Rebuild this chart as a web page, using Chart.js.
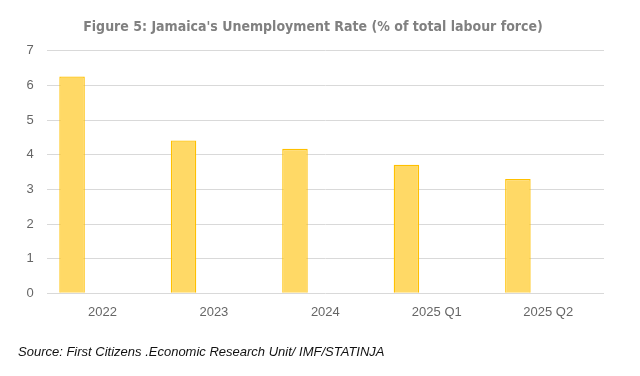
<!DOCTYPE html>
<html>
<head>
<meta charset="utf-8">
<script src="https://cdn.jsdelivr.net/npm/chart.js@4"></script>
<style>
    html, body { margin: 0; padding: 0; background: #fff; }
    .wrap { position: relative; width: 640px; height: 376px; }
    .source {
        position: absolute; left: 18px; top: 344px;
        font: italic 13px "Liberation Sans", Arial, sans-serif; color: #111;
    }
</style>
</head>
<body>
<div class="wrap">
    <canvas id="chart" width="640" height="376"></canvas>
    <div class="source">Source: First Citizens .Economic Research Unit/ IMF/STATINJA</div>
</div>
<script>
const categories = ['2022', '2023', '2024', '2025 Q1', '2025 Q2'];
const unemployment = [6.26, 4.41, 4.17, 3.71, 3.3];
const emptySeries = [null, null, null, null, null];
const yTicks = [0, 1, 2, 3, 4, 5, 6, 7];

const tickFont = { family: '"Liberation Sans", Arial, sans-serif', size: 13 };

new Chart(document.getElementById('chart'), {
    type: 'bar',
    data: {
        labels: categories,
        datasets: [
            {
                label: 'Unemployment rate',
                data: unemployment,
                backgroundColor: '#FFD966',
                borderColor: '#FFC000',
                borderWidth: 1.3
            },
            {
                label: '',
                data: emptySeries
            }
        ]
    },
    options: {
        responsive: false,
        animation: false,
        categoryPercentage: 1.09,
        barPercentage: 0.42,
        // left padding nudges the title centre right, like the original
        layout: { padding: { left: 22, right: 36, top: 0, bottom: 0 } },
        plugins: {
            legend: { display: false },
            tooltip: { enabled: false },
            title: {
                display: true,
                text: "Figure 5: Jamaica's Unemployment Rate (% of total labour force)",
                color: '#808080',
                font: { family: '"Liberation Sans Narrow", "DejaVu Sans Condensed", Arial, sans-serif', size: 14, weight: 'bold', lineHeight: 1.2 },
                padding: { top: 19, bottom: 15 }
            }
        },
        scales: {
            x: {
                grid: { display: false, drawTicks: false },
                border: { display: false },
                ticks: { color: '#666', font: tickFont, padding: 11, maxRotation: 0 },
                afterFit(scale) { scale.height = 82.7; }
            },
            y: {
                min: 0,
                max: 7,
                afterBuildTicks(scale) { scale.ticks = yTicks.map(v => ({ value: v })); },
                grid: { color: '#d9d9d9', drawTicks: false },
                border: { display: false },
                ticks: { color: '#666', font: tickFont, padding: 13 },
                afterFit(scale) { scale.width = 24.7; }
            }
        }
    }
});
</script>
</body>
</html>
